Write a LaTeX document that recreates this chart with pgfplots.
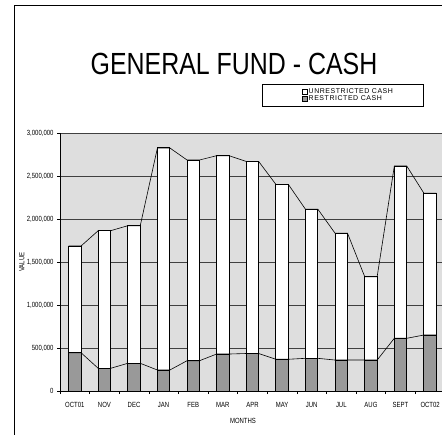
\documentclass[border=0pt]{standalone}
\usepackage{pgfplots}
\pgfplotsset{compat=1.18}
\usepackage{pgfplotstable}
\usepackage{fontspec}
\setmainfont{Liberation Sans}
\newfontfamily\cond{Liberation Sans}[FakeStretch=0.8]
\newfontfamily\spaced{Liberation Sans}[LetterSpace=8]
\newfontfamily\titlefont{Liberation Sans}[FakeStretch=0.815]
\newcommand\tk{\cond\fontsize{7.5}{8.5}\selectfont}
\newcommand\lgd{\spaced\fontsize{7}{8}\selectfont}

% month index, restricted cash, unrestricted cash
\pgfplotstableread{
m r u
0 445000 1241000
1 264000 1600000
2 322000 1600000
3 244000 2582000
4 352000 2334000
5 430000 2306000
6 436000 2233000
7 369000 2034000
8 380000 1733000
9 360000 1474000
10 360000 969000
11 613000 2003000
12 651000 1648000
}\cash

% bar corners for the series lines (same values)
\pgfplotstableread{
xc r u
-0.21 445000 1241000
0.21 445000 1241000
0.79 264000 1600000
1.21 264000 1600000
1.79 322000 1600000
2.21 322000 1600000
2.79 244000 2582000
3.21 244000 2582000
3.79 352000 2334000
4.21 352000 2334000
4.79 430000 2306000
5.21 430000 2306000
5.79 436000 2233000
6.21 436000 2233000
6.79 369000 2034000
7.21 369000 2034000
7.79 380000 1733000
8.21 380000 1733000
8.79 360000 1474000
9.21 360000 1474000
9.79 360000 969000
10.21 360000 969000
10.79 613000 2003000
11.21 613000 2003000
11.79 651000 1648000
12.21 651000 1648000
}\corners

\begin{document}
\begin{tikzpicture}
\draw[line width=1bp] (14bp,-435bp) -- (14bp,-5bp) -- (442bp,-5bp);
\node[anchor=base, font=\titlefont\fontsize{30.7}{32}\selectfont, inner sep=0pt] at (234bp,-74bp) {GENERAL FUND - CASH};
\begin{axis}[
  set layers,
  at={(60bp,-391bp)}, anchor=south west,
  scale only axis, width=382bp, height=258bp,
  xmin=-0.5, xmax=12.4, ymin=0, ymax=3000000,
  axis x line*=bottom, axis y line*=left,
  axis line style={black, line width=0.8bp},
  axis background/.style={fill=black!13},
  /pgf/number format/assume math mode=true,
  scaled y ticks=false,
  ytick={0,500000,1000000,1500000,2000000,2500000,3000000},
  yticklabel style={/pgf/number format/fixed, /pgf/number format/1000 sep={,}, font=\tk},
  ymajorgrids, grid style={black!75, line width=0.5bp},
  tick align=outside, major tick length=3bp,
  tick style={black, line width=0.5bp},
  xtick={-0.5,0.5,...,12.5}, xticklabels={},
  extra x ticks={0,1,...,12},
  extra x tick labels={OCT01,NOV,DEC,JAN,FEB,MAR,APR,MAY,JUN,JUL,AUG,SEPT,OCT02},
  extra x tick style={major tick length=0pt, grid=none},
  xticklabel style={font=\tk, yshift=-8bp},
  xlabel={MONTHS}, xlabel style={font=\tk, at={(axis description cs:0.479,-0.116)}, anchor=center},
  ylabel={VALUE}, ylabel style={font=\tk, at={(axis description cs:-0.1,0.5)}, anchor=center},
  legend style={at={(axis description cs:0.529,1.19)}, anchor=north west, draw=black,
    line width=0.6bp, font=\lgd, inner xsep=40bp, inner ysep=3.5bp, row sep=-1bp,
    nodes={inner sep=0.8bp}},
  legend cell align=left,
]
\addplot[ybar, bar width=0.42, bar shift=0pt, fill=white, draw=black, line width=1bp,
  legend image code/.code={\draw[fill=white, draw=black, line width=0.5bp] (0bp,-2.5bp) rectangle (5bp,2.5bp);}]
  table[x=m, y expr=\thisrow{r}+\thisrow{u}] {\cash};
\addlegendentry{\makebox[74bp][l]{UNRESTRICTED CASH}}
\addplot[ybar, bar width=0.42, bar shift=0pt, fill=black!40, draw=black, line width=1bp,
  legend image code/.code={\draw[fill=black!40, draw=black, line width=0.5bp] (0bp,-2.5bp) rectangle (5bp,2.5bp);}]
  table[x=m, y=r] {\cash};
\addlegendentry{\makebox[74bp][l]{RESTRICTED CASH}}
\addplot[black, line width=0.6bp, forget plot] table[x=xc, y=r] {\corners};
\addplot[black, line width=0.6bp, forget plot] table[x=xc, y expr=\thisrow{r}+\thisrow{u}] {\corners};
\end{axis}
\pgfresetboundingbox
\path[use as bounding box] (0,0) rectangle (442bp,-435bp);
\end{tikzpicture}
\end{document}
